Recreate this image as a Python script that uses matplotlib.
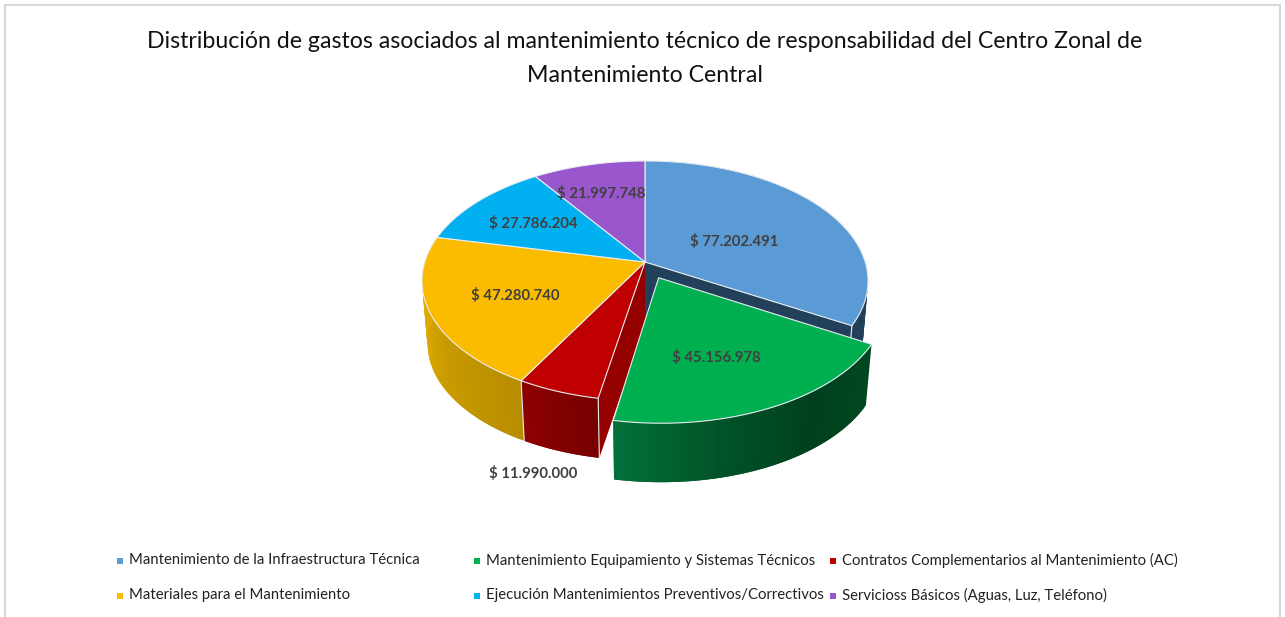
import numpy as np
import matplotlib
matplotlib.use('Agg')
import matplotlib.pyplot as plt
from matplotlib.colors import to_rgb

plt.rcParams['font.family'] = ['Lato', 'DejaVu Sans']

# ---------- datos ----------
categorias = ['Mantenimiento de la Infraestructura Técnica',
              'Mantenimiento Equipamiento y Sistemas Técnicos',
              'Contratos Complementarios al Mantenimiento (AC)',
              'Materiales para el Mantenimiento',
              'Ejecución Mantenimientos Preventivos/Correctivos',
              'Servicioss Básicos (Aguas, Luz, Teléfono)']
valores = [77202491, 45156978, 11990000, 47280740, 27786204, 21997748]
etiquetas = ['$ 77.202.491', '$ 45.156.978', '$ 11.990.000',
             '$ 47.280.740', '$ 27.786.204', '$ 21.997.748']
titulo = ['Distribución de gastos asociados al mantenimiento técnico de responsabilidad del Centro Zonal de',
          'Mantenimiento Central']

# ---------- estilo ----------
colores = ['#5b9bd5', '#00b050', '#c00000', '#fbbc00', '#00b0f0', '#9a57cd']
# degradado de la pared exterior (inicio del sector -> fin del sector)
pared = {0: ['#22405a', '#22405a'],
         1: ['#00481f', '#00401f', '#005228', '#03703a'],
         2: ['#760000', '#8f0000'],
         3: ['#b88d00', '#c79a00', '#e0aa00', '#dca800']}
pos_etiquetas = [(734, 242), (716, 357), (533, 474), (515, 295), (533, 223), (601, 194)]
pos_leyenda = [(120, 561), (477, 561), (833, 561), (120, 596), (477, 596), (833, 596)]
explosion = [0, 0.145, 0, 0, 0, 0]


def proyectar(u, v, abajo=False):
    # disco unidad -> pixeles, con perspectiva
    k = 0.158
    den = 1 + k * v
    esc, cy = (0.975, 325) if abajo else (1.0, 262)
    return 645 + esc * 220.2 * u / den, cy - esc * 117 * v / den


def arco(a0, a1, n=80):
    t = np.radians(np.linspace(a0, a1, n))
    return np.sin(t), np.cos(t)


def degradado(stops, t):
    rgb = np.array([to_rgb(c) for c in stops])
    xs = np.linspace(0, 1, len(stops))
    return [float(np.interp(t, xs, rgb[:, i])) for i in range(3)]


fig = plt.figure(figsize=(12.85, 6.17), dpi=100)
ax = fig.add_axes([0, 0, 1, 1])
ax.set_xlim(0, 1285)
ax.set_ylim(617, 0)
ax.axis('off')

# marco
ax.plot([5, 5], [617, 5], color='#d9d9d9', lw=1.5)
ax.plot([5, 1280], [5, 5], color='#d9d9d9', lw=1.5)
ax.plot([1280, 1280], [5, 617], color='#d9d9d9', lw=1.5)

angulos = np.concatenate([[0], np.cumsum(valores) / np.sum(valores) * 360])
borde = '#e8edf0'


def offset(i):
    m = np.radians((angulos[i] + angulos[i + 1]) / 2)
    return explosion[i] * np.sin(m), explosion[i] * np.cos(m)


def pared_radial(i, ang, color):
    du, dv = offset(i)
    u, v = np.sin(np.radians(ang)) + du, np.cos(np.radians(ang)) + dv
    p = [proyectar(du, dv), proyectar(u, v), proyectar(u, v, True), proyectar(du, dv, True)]
    ax.fill([q[0] for q in p], [q[1] for q in p], color=color, lw=0, zorder=2)
    ax.plot([p[1][0], p[2][0]], [p[1][1], p[2][1]], color=borde, lw=0.8, zorder=3)


def pared_exterior(i, z=2):
    du, dv = offset(i)
    a0, a1 = angulos[i], angulos[i + 1]
    n = 60
    bordes = np.linspace(a0, a1, n + 1)
    for j in range(n):
        # cada franja se solapa con la siguiente para que no queden costuras
        fin = bordes[min(j + 2, n)]
        u, v = arco(bordes[j], fin, 6)
        xt, yt = proyectar(u + du, v + dv)
        xb, yb = proyectar(u + du, v + dv, True)
        ax.fill(np.r_[xt, xb[::-1]], np.r_[yt, yb[::-1]],
                color=degradado(pared[i], j / (n - 1)), lw=0, zorder=z)


def tapa(i, z):
    du, dv = offset(i)
    u, v = arco(angulos[i], angulos[i + 1])
    x, y = proyectar(np.r_[du, u + du], np.r_[dv, v + dv])
    ax.fill(x, y, facecolor=colores[i], edgecolor=borde, lw=0.8, zorder=z, joinstyle='round')


# paredes de atras hacia adelante
pared_radial(0, angulos[1], '#22405a')
pared_exterior(0)
pared_radial(2, angulos[2], '#950000')
pared_exterior(3)
pared_exterior(2)
for i in [0, 2, 3, 4, 5]:
    tapa(i, 4)
# vertical entre rojo y amarillo
u, v = np.sin(np.radians(angulos[3])), np.cos(np.radians(angulos[3]))
xa, ya = proyectar(u, v)
xb, yb = proyectar(u, v, True)
ax.plot([xa, xb], [ya, yb], color=borde, lw=0.8, zorder=3)
# sector separado
pared_exterior(1, z=5)
tapa(1, 6)

for txt, (x, y) in zip(etiquetas, pos_etiquetas):
    ax.text(x, y, txt, ha='center', va='center', fontsize=10.7, fontweight='bold',
            color='#404040', zorder=8)

ax.text(645, 41, titulo[0], ha='center', va='center', fontsize=16.7, color='#111111')
ax.text(645, 76, titulo[1], ha='center', va='center', fontsize=16.7, color='#111111')

for nombre, color, (x, y) in zip(categorias, colores, pos_leyenda):
    ax.plot([x], [y], marker='s', ms=3.8, color=color, mew=0, ls='none')
    ax.text(x + 9, y - 0.5, nombre, ha='left', va='center', fontsize=10.7, color='#222222')

fig.savefig('out.png', dpi=100, facecolor='white')
